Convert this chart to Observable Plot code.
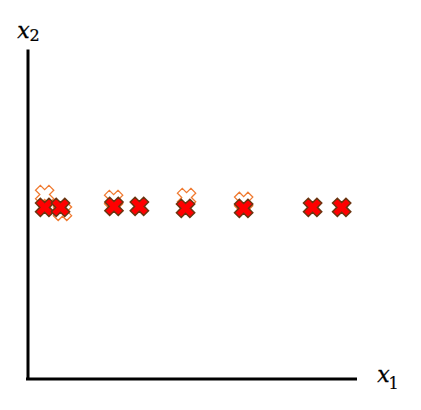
<!DOCTYPE html>
<html>
<head>
<meta charset="utf-8">
<script src="https://cdn.jsdelivr.net/npm/d3@7"></script>
<script src="https://cdn.jsdelivr.net/npm/@observablehq/plot@0.6"></script>
<style>
  body { margin: 0; background: #fff; }
  #chart svg { display: block; }
</style>
</head>
<body>
<div id="chart"></div>
<script>
// Data (abstract units 0–100 on both axes; no ticks shown in the reference)
const redX = [5.2, 10.0, 26.2, 33.9, 47.9, 65.5, 86.4, 95.2];
const redY = [52.0, 52.0, 52.3, 52.3, 51.7, 51.7, 52.0, 52.0];
const orangeX = [5.2, 10.6, 26.1, 48.2, 65.5];
const orangeY = [55.9, 50.8, 54.4, 55.0, 53.8];
const axisLabels = ["x", "x"];
const axisSubs = ["2", "1"];

const red = redX.map((x, i) => ({x, y: redY[i]}));
const orange = orangeX.map((x, i) => ({x, y: orangeY[i]}));

// thick filled "X" symbol
const thickX = {
  draw(context, size) {
    const r = Math.sqrt(size / Math.PI);
    const b = r * 1.0, a = b * 0.36;
    const pts = [[-a,-b],[a,-b],[a,-a],[b,-a],[b,a],[a,a],[a,b],[-a,b],[-a,a],[-b,a],[-b,-a],[-a,-a]]
      .map(([x, y]) => [(x - y) / Math.SQRT2, (x + y) / Math.SQRT2]);
    context.moveTo(pts[0][0], pts[0][1]);
    for (let i = 1; i < pts.length; i++) context.lineTo(pts[i][0], pts[i][1]);
    context.closePath();
  }
};

const chart = Plot.plot({
  width: 421,
  height: 410,
  marginLeft: 27,
  marginRight: 64,
  marginTop: 48,
  marginBottom: 31,
  x: {domain: [0, 100], axis: null},
  y: {domain: [0, 100], axis: null},
  marks: [
    Plot.ruleX([0], {y1: 0, y2: 100, stroke: "black", strokeWidth: 3, dx: 0.5, insetBottom: -1.5}),
    Plot.ruleY([0], {x1: 0, x2: 100, stroke: "black", strokeWidth: 3, dy: -0.5, insetLeft: -1}),
    Plot.dot(orange, {x: "x", y: "y", symbol: thickX, r: 9.5, fill: "white", stroke: "#f07a30", strokeWidth: 1.3}),
    Plot.dot(red, {x: "x", y: "y", symbol: thickX, r: 9.5, fill: "#ff0000", stroke: "#6b3410", strokeWidth: 1.5}),
    Plot.text([axisLabels[0]], {frameAnchor: "top-left", dx: -4, dy: -26, fontSize: 22, fontStyle: "italic", fontFamily: "DejaVu Serif", fill: "#000", stroke: "#000", strokeWidth: 0.3, textAnchor: "middle"}),
    Plot.text([axisSubs[0]], {frameAnchor: "top-left", dx: 7, dy: -19, fontSize: 16, fontFamily: "DejaVu Serif", fill: "#000", stroke: "#000", strokeWidth: 0.2, textAnchor: "middle"}),
    Plot.text([axisLabels[1]], {frameAnchor: "bottom-right", dx: 26, dy: 2, fontSize: 22, fontStyle: "italic", fontFamily: "DejaVu Serif", fill: "#000", stroke: "#000", strokeWidth: 0.3, textAnchor: "middle"}),
    Plot.text([axisSubs[1]], {frameAnchor: "bottom-right", dx: 36, dy: 9, fontSize: 16, fontFamily: "DejaVu Serif", fill: "#000", stroke: "#000", strokeWidth: 0.2, textAnchor: "middle"})
  ]
});
document.getElementById("chart").appendChild(chart);
</script>
</body>
</html>
